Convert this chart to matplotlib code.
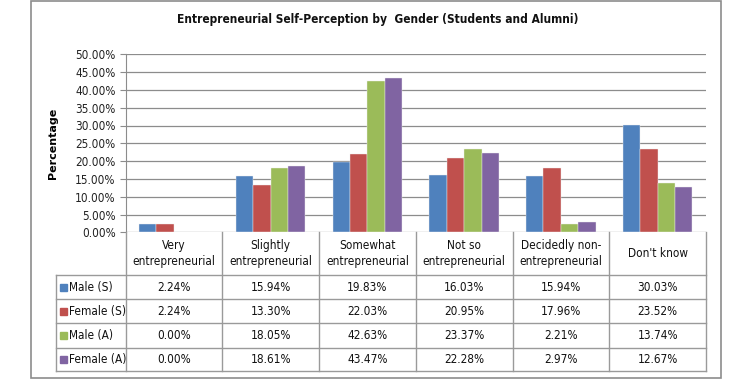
import matplotlib
matplotlib.use("Agg")
import matplotlib.pyplot as plt
from matplotlib.patches import Rectangle
from matplotlib.lines import Line2D
import numpy as np

categories = ["Very\nentrepreneurial", "Slightly\nentrepreneurial", "Somewhat\nentrepreneurial",
              "Not so\nentrepreneurial", "Decidedly non-\nentrepreneurial", "Don't know"]
series_names = ["Male (S)", "Female (S)", "Male (A)", "Female (A)"]
male_s = [2.24, 15.94, 19.83, 16.03, 15.94, 30.03]
female_s = [2.24, 13.30, 22.03, 20.95, 17.96, 23.52]
male_a = [0.00, 18.05, 42.63, 23.37, 2.21, 13.74]
female_a = [0.00, 18.61, 43.47, 22.28, 2.97, 12.67]
series = [male_s, female_s, male_a, female_a]
colors = ["#4F81BD", "#C0504D", "#9BBB59", "#8064A2"]
yticks = [0, 5, 10, 15, 20, 25, 30, 35, 40, 45, 50]

plt.rcParams['font.family'] = ['DejaVu Sans']
plt.rcParams['font.stretch'] = 'condensed'
FS = 8.5

W, H = 750, 380
fig = plt.figure(figsize=(7.5, 3.8), dpi=100)

def fx(px):
    return px / W

def fy(py):
    return (H - py) / H

# outer border
fig.add_artist(Rectangle((fx(31), fy(378)), fx(721) - fx(31), fy(1) - fy(378),
                         transform=fig.transFigure, fill=False, edgecolor="#8c8c8c", lw=1.2))

left_px, right_px, top_px, base_px = 125.5, 706, 54.3, 232.3
ax = fig.add_axes([fx(left_px), fy(base_px), fx(right_px) - fx(left_px), fy(top_px) - fy(base_px)])

n = len(categories)
x = np.arange(n)
bw = 0.18
for i, (vals, c) in enumerate(zip(series, colors)):
    ax.bar(x + (i - 1.5) * bw, vals, width=bw, color=c, edgecolor="#eeeeee", linewidth=0.3, zorder=3)

ax.set_xlim(-0.5, n - 0.5)
ax.set_ylim(0, 50)
ax.set_yticks(yticks)
ax.set_yticklabels([f"{v:.2f}%" for v in yticks], fontsize=FS, color="#222222")
ax.set_xticks([])
ax.yaxis.grid(True, color="#8c8c8c", lw=0.9, zorder=0)
for s in ["top", "right", "bottom"]:
    ax.spines[s].set_visible(False)
ax.spines["left"].set_color("#8c8c8c")
ax.tick_params(axis="y", length=4, color="#8c8c8c", pad=3)

ax.set_ylabel("Percentage", fontsize=8, fontweight="bold", fontstretch="normal", labelpad=12)
fig.text(fx(378), fy(20), "Entrepreneurial Self-Perception by  Gender (Students and Alumni)",
         ha="center", va="center", fontsize=8.6, fontweight="bold", color="#111111")

# data table
lc = "#9a9a9a"
col_w = (right_px - left_px) / n
col_edges = [left_px + k * col_w for k in range(n + 1)]
hdr_bottom = 275
row_edges = [275, 299.3, 323.3, 347.7, 371]
tbl_left = 56

def hline(y, x0, x1):
    fig.add_artist(Line2D([fx(x0), fx(x1)], [fy(y), fy(y)], transform=fig.transFigure, color=lc, lw=1))

def vline(xp, y0, y1):
    fig.add_artist(Line2D([fx(xp), fx(xp)], [fy(y0), fy(y1)], transform=fig.transFigure, color=lc, lw=1))

for xe in col_edges:
    vline(xe, base_px, row_edges[-1])
vline(tbl_left, row_edges[0], row_edges[-1])
for ye in row_edges:
    hline(ye, tbl_left, right_px)

for k, cat in enumerate(categories):
    cx = (col_edges[k] + col_edges[k + 1]) / 2
    fig.text(fx(cx), fy((base_px + hdr_bottom) / 2), cat, ha="center", va="center",
             fontsize=FS, linespacing=1.3, color="#111111")

for r, (name, vals, c) in enumerate(zip(series_names, series, colors)):
    cy = (row_edges[r] + row_edges[r + 1]) / 2
    fig.add_artist(Rectangle((fx(60), fy(cy + 3.5)), fx(7) - fx(0), fy(0) - fy(7),
                             transform=fig.transFigure, color=c))
    fig.text(fx(69), fy(cy), name, ha="left", va="center", fontsize=FS, color="#111111")
    for k, v in enumerate(vals):
        cx = (col_edges[k] + col_edges[k + 1]) / 2
        fig.text(fx(cx), fy(cy), f"{v:.2f}%", ha="center", va="center", fontsize=FS, color="#111111")

fig.savefig("out.png", dpi=100)
